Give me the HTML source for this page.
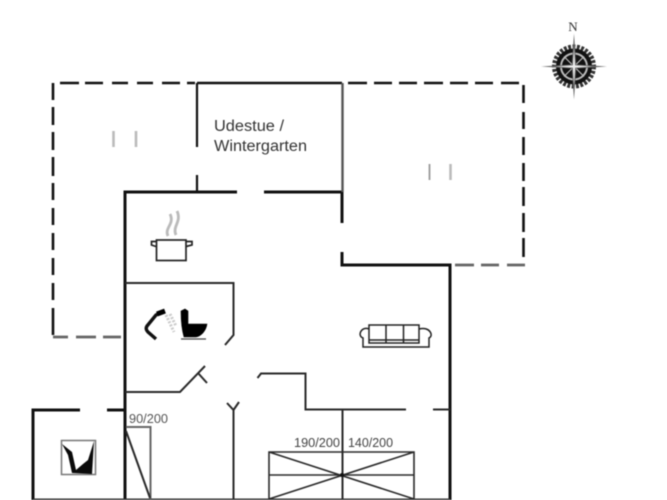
<!DOCTYPE html>
<html><head><meta charset="utf-8"><style>
html,body{margin:0;padding:0;background:#fff;width:667px;height:500px;overflow:hidden}
svg{display:block;filter:blur(.5px)}
text{font-family:"Liberation Sans",sans-serif}
</style></head><body>
<svg width="667" height="500" viewBox="0 0 667 500" xmlns="http://www.w3.org/2000/svg">
<rect width="667" height="500" fill="#fff"/>
<!-- dashed -->
<g stroke="#111" stroke-width="2.6" fill="none">
<path d="M60 83H79M85 83H103M112 83H128M137 83H153M162 83H180M187 83H195"/>
<path d="M348 83H367M374 83H392M399 83H417M424 83H443M450 83H468M475 83H493M501 83H519"/>
<path d="M523.5 85V103M523.5 112V129M523.5 137V155M523.5 163V181M523.5 187V206M523.5 213V232M523.5 238V257"/>
<path d="M53 83V100M53 107V125M53 132V150M53 157V176M53 183V200M53 208V225M53 233V250M53 258V275M53 283V300M53 308V335"/>
</g>
<g stroke="#666" stroke-width="2.8" fill="none">
<path d="M455 265H474M481 265H499M507 265H525"/>
<path d="M53 337H68M76 337H96M103 337H121"/>
</g>
<!-- walls -->
<g stroke="#111" fill="none">
<path d="M125 500V192H237M264 192H342" stroke-width="3"/>
<path d="M197 83H342" stroke-width="2.4"/>
<path d="M197 83V147M197 175V192" stroke-width="2.2"/>
<path d="M342 192V223M342 252V265H450V500" stroke-width="3"/>
<path d="M33 500V410H80M107 410H125" stroke-width="3"/>
<path d="M33 499.500H450" stroke="#333" stroke-width="2"/>
</g>
<path d="M342.500 83V192" stroke="#555" stroke-width="2.400"/>
<g stroke="#2a2a2a" stroke-width="2" fill="none">
<path d="M125 283H233.500V335L225 345"/>
<path d="M125 392H180L205 366M198 373L207 383"/>
<path d="M227 403L233.500 410L239 402M233.500 410V500"/>
<path d="M257.500 378L261 373.500H305.500V409.500H406M433 409.500H450"/>
<path d="M342.500 409.500V500"/>
<path d="M269 499V452H414V499M269 475H414M269 452L414 499M414 452L269 499" stroke-width="1.600"/>
<path d="M126 427H150.500V499" stroke="#666"/>
<path d="M126 431L150 498" />
</g>
<circle cx="342" cy="475" r="2" fill="#111"/>
<!-- small gray marks -->
<g stroke="#bbb" stroke-width="2.600">
<path d="M113.500 131V147M136 131V147"/>
<path d="M450.500 164V180"/>
</g>
<path d="M429.500 164V180" stroke="#999" stroke-width="1.800"/>
<!-- text -->
<text x="214" y="131" font-size="15.500" fill="#333" textLength="70" lengthAdjust="spacingAndGlyphs">Udestue /</text>
<text x="214" y="151" font-size="15.500" fill="#333" textLength="93" lengthAdjust="spacingAndGlyphs">Wintergarten</text>
<text x="129" y="423" font-size="12.500" fill="#555" textLength="39" lengthAdjust="spacingAndGlyphs">90/200</text>
<text x="294" y="447" font-size="12.500" fill="#444" textLength="46" lengthAdjust="spacingAndGlyphs">190/200</text>
<text x="348" y="447" font-size="12.500" fill="#444" textLength="45" lengthAdjust="spacingAndGlyphs">140/200</text>
<!-- pot -->
<g fill="none" stroke="#222" stroke-width="1.700">
<rect x="156.500" y="240" width="29.500" height="20.500"/>
<path d="M156 241.500H151.500V245L156 246.500M186 241.500H192V245L186 246.500"/>
</g>
<path d="M168 236C164 228 175 224 170 214M176 235C172 226 182 222 177 211" fill="none" stroke="#bbb" stroke-width="2.800"/>
<!-- shower -->
<path d="M156 339L148 332Q145 329 147 326L156 315L162 312" fill="none" stroke="#111" stroke-width="3.400"/>
<path d="M157 314L165 311" stroke="#000" stroke-width="5"/>
<path d="M166 315L174 332M170 314L176 326" stroke="#ccc" stroke-width="3" stroke-dasharray="2 1.500"/>
<!-- toilet -->
<path fill-rule="nonzero" d="M181 311L185 309L188 311V324H207C206 331 201 336 196 337H184C182 330 181 320 181 311Z" fill="#000" stroke="#000" stroke-width=".6"/>
<path d="M181 339H206" stroke="#444" stroke-width="1.200"/>
<!-- sofa -->
<g fill="none" stroke="#222" stroke-width="1.500">
<rect x="369" y="325" width="50" height="18"/>
<path d="M386 325V343M403.500 325V343M369 340H419"/>
<path d="M369 329C361 326 357 336 363 338V347H429V338C434 336 430 326 419 329"/>
</g>
<!-- washer -->
<rect x="61.500" y="440.500" width="34" height="34" fill="#fff" stroke="#777" stroke-width="1.500"/>
<path d="M62 444L72 452L76 470L83 464L88 460L94 441L92 474L72 473L68 455Z" fill="#0a0a0a"/>
<!-- compass -->
<text x="573" y="31" font-size="13" fill="#333" text-anchor="middle" style="font-family:'Liberation Serif',serif">N</text>
<g transform="translate(574 66.500)">
<circle r="19.500" fill="none" stroke="#333" stroke-width="5" stroke-dasharray="2.800 1.500"/>
<circle r="18" fill="#111"/>
<circle r="13" fill="none" stroke="#bbb" stroke-width="2"/>
<path d="M-10 -10L10 10M10 -10L-10 10" stroke="#bbb" stroke-width="1.200"/>
<path d="M0 -33L2.200 -2L33 0L2.200 2L0 33L-2.200 2L-33 0L-2.200 -2Z" fill="#666"/>
<path d="M0 -18L1.200 0L0 18L-1.200 0ZM-18 0L0 -1.200L18 0L0 1.200Z" fill="#eee"/>
</g>
</svg>
</body></html>
